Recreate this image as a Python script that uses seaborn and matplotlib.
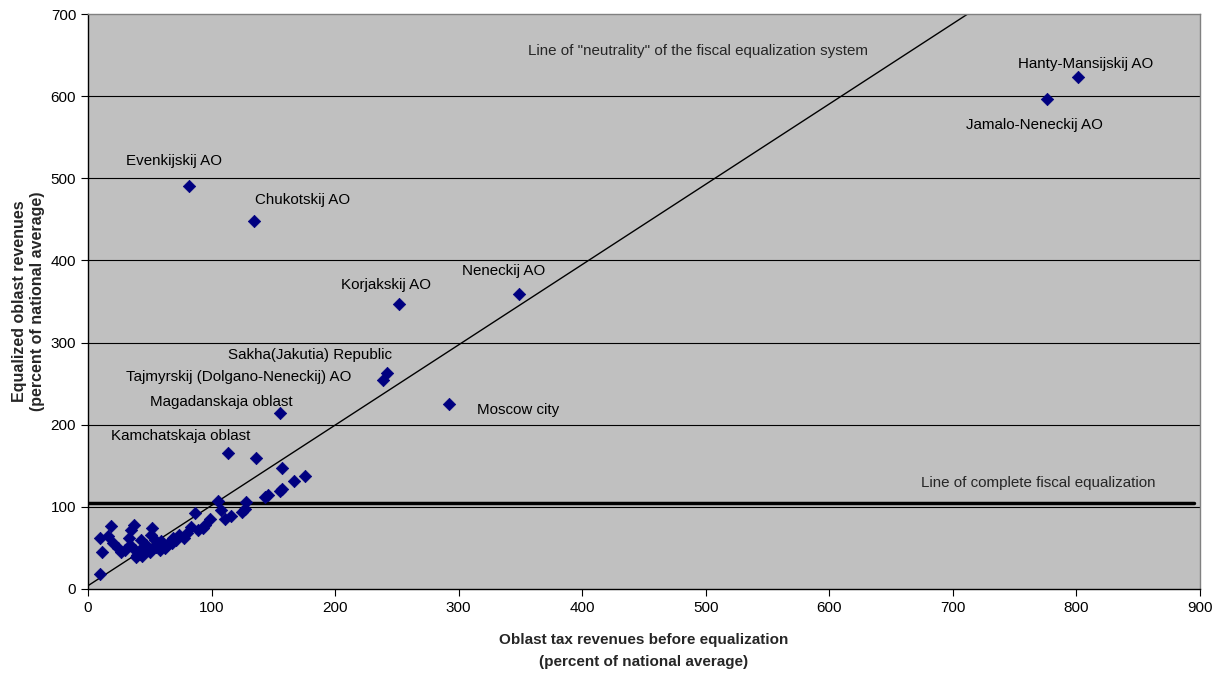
import matplotlib
matplotlib.use("Agg")
import matplotlib.pyplot as plt
import seaborn as sns
import numpy as np
import pandas as pd

# Labeled regions
label_names = ["Hanty-Mansijskij AO", "Jamalo-Neneckij AO", "Evenkijskij AO", "Chukotskij AO",
               "Neneckij AO", "Korjakskij AO", "Sakha(Jakutia) Republic",
               "Tajmyrskij (Dolgano-Neneckij) AO", "Moscow city", "Magadanskaja oblast",
               "Kamchatskaja oblast"]
label_x = [801, 776, 82, 134, 349, 252, 242, 239, 292, 155, 113]
label_y = [623, 597, 491, 448, 359, 347, 263, 254, 225, 214, 166]
# label text anchor (data coordinates)
text_x = [753, 711, 31, 135, 303, 205, 113, 31, 315, 50, 19]
text_y = [639, 565, 521, 474, 387, 370, 285, 258, 218, 228, 186]

# Other (unlabeled) regions
other_x = [10, 11, 10, 19, 16, 20, 24, 27, 37, 35, 33, 34, 38, 39, 42, 43, 47, 52, 51, 54,
           50, 55, 60, 64, 68, 62, 58, 69, 74, 78, 83, 87, 89, 93, 99, 105, 108, 111, 116, 125,
           127, 128, 143, 146, 155, 157, 167, 176, 157, 136, 40, 45, 48, 53, 57, 61, 66, 71, 44,
           42, 59, 63, 67, 30, 80, 95]
other_y = [18, 45, 62, 77, 64, 56, 50, 45, 78, 72, 62, 54, 47, 39, 43, 60, 54, 74, 66, 60,
           45, 51, 56, 54, 56, 50, 47, 62, 66, 62, 76, 93, 72, 74, 85, 107, 96, 85, 89, 94,
           98, 106, 112, 114, 119, 122, 131, 138, 147, 159, 42, 45, 48, 50, 52, 54, 57, 60, 40,
           47, 58, 52, 58, 48, 68, 78]

x_ticks = [0, 100, 200, 300, 400, 500, 600, 700, 800, 900]
y_ticks = [0, 100, 200, 300, 400, 500, 600, 700]

neutral_line_x = [0, 712]
neutral_line_y = [4, 700]
equal_level = 105

df = pd.DataFrame({"x": label_x + other_x, "y": label_y + other_y})

sns.set_style("white")
plt.rcParams["font.family"] = ["Liberation Sans", "DejaVu Sans"]

fig = plt.figure(figsize=(12.25, 6.81), dpi=100)
ax = fig.add_axes([88/1225, 1-589/681, (1200-88)/1225, (589-14)/681])
ax.set_facecolor("#C0C0C0")

for v in y_ticks[1:-1]:
    ax.axhline(v, color="black", lw=0.8, zorder=1)

ax.plot(neutral_line_x, neutral_line_y, color="black", lw=1.0, zorder=2)
ax.plot([0, 895], [equal_level, equal_level], color="black", lw=2.5, zorder=2)

sns.scatterplot(data=df, x="x", y="y", ax=ax, marker="D", s=40, color="#000080",
                edgecolor="#000080", linewidth=0.5, zorder=3)

fs = 10.9
for name, tx, ty in zip(label_names, text_x, text_y):
    ax.text(tx, ty, name, fontsize=fs, ha="left", va="center", color="black", zorder=4)
ax.text(356, 655, 'Line of "neutrality" of the fiscal equalization system', fontsize=fs,
        ha="left", va="center", zorder=4)
ax.text(674, 129, "Line of complete fiscal equalization", fontsize=fs,
        ha="left", va="center", zorder=4)

ax.set_xlim(0, 900)
ax.set_ylim(0, 700)
ax.set_xticks(x_ticks)
ax.set_yticks(y_ticks)
ax.tick_params(axis="both", labelsize=11, length=5, width=0.8, direction="out",
               colors="black", bottom=True, left=True)
ax.set_xlabel("Oblast tax revenues before equalization\n(percent of national average)",
              fontsize=11, fontweight="bold", labelpad=13, linespacing=1.75)
ax.set_ylabel("Equalized oblast revenues\n(percent of national average)",
              fontsize=11.5, fontweight="bold", labelpad=4, linespacing=1.25)

for s in ["left", "bottom"]:
    ax.spines[s].set_color("black")
    ax.spines[s].set_linewidth(1.0)
for s in ["top", "right"]:
    ax.spines[s].set_color("#808080")
    ax.spines[s].set_linewidth(1.0)

fig.savefig("out.png", dpi=100)
